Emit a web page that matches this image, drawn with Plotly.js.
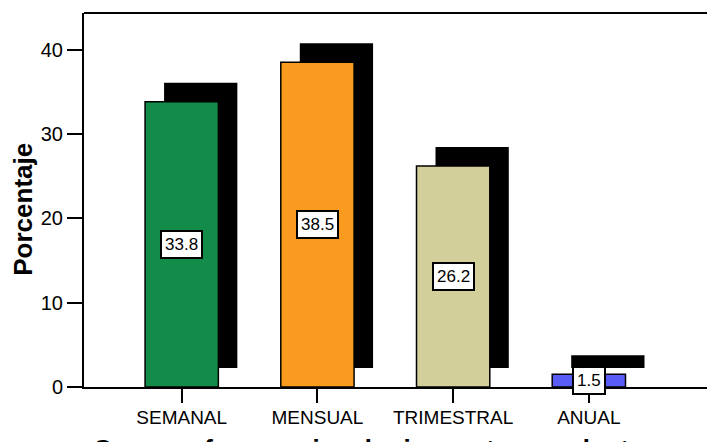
<!DOCTYPE html>
<html>
<head>
<meta charset="utf-8">
<script src="https://cdn.plot.ly/plotly-3.0.1.min.js"></script>
<style>
  html, body { margin: 0; padding: 0; background: #ffffff; overflow: hidden; }
  #chart { width: 730px; height: 442px; }
</style>
</head>
<body>
<div id="chart"></div>
<script>
// Frecuencia de compra (porcentaje de encuestados)
const categories = ["SEMANAL", "MENSUAL", "TRIMESTRAL", "ANUAL"];
const percentages = [33.8, 38.5, 26.2, 1.5];
const barColors = ["#128c48", "#f89b1f", "#d3cf9a", "#5a5cf6"];
const yTicks = [0, 10, 20, 30, 40];

const yAxisTitle = "Porcentaje";
const xAxisTitle = "Con que frecuencia adquiere estos productos";

// Drop-shadow geometry (data units): shifted right and up behind each bar
const barWidth = 0.54;
const shadowDx = 0.14;
const shadowDy = 2.25;

const font = "Liberation Sans, Arial, Helvetica, sans-serif";
const xIdx = categories.map((_, i) => i);

const shadow = {
  type: "bar",
  x: xIdx,
  y: percentages,
  base: percentages.map(() => shadowDy),
  width: barWidth,
  offset: -barWidth / 2 + shadowDx,
  marker: { color: "#000000", line: { width: 0 } },
  hoverinfo: "skip",
  showlegend: false
};

const bars = {
  type: "bar",
  x: xIdx,
  y: percentages,
  width: barWidth,
  offset: -barWidth / 2,
  marker: { color: barColors, line: { color: "#000000", width: 1.5 } },
  showlegend: false
};

// Value boxes centred half-way up each bar
const valueLabels = percentages.map((v, i) => ({
  x: i,
  y: v / 2,
  xref: "x",
  yref: "y",
  text: v.toFixed(1),
  showarrow: false,
  font: { family: font, size: 17, color: "#000000" },
  bgcolor: "#ffffff",
  bordercolor: "#000000",
  borderwidth: 2,
  borderpad: 3,
  xanchor: "center",
  yanchor: "middle"
}));

const titles = [
  {
    xref: "paper", yref: "paper",
    x: (376 - 84) / 646, y: -0.121,
    xanchor: "center", yanchor: "top",
    text: "<b>" + xAxisTitle + "</b>",
    showarrow: false,
    font: { family: font, size: 26, color: "#000000" }
  },
  {
    xref: "paper", yref: "paper",
    x: -0.0944, y: 0.474,
    xanchor: "center", yanchor: "middle",
    textangle: -90,
    text: "<b>" + yAxisTitle + "</b>",
    showarrow: false,
    font: { family: font, size: 26, color: "#000000" }
  }
];

const layout = {
  width: 730,
  height: 442,
  margin: { l: 84, r: 0, t: 13, b: 55.3 },
  paper_bgcolor: "#ffffff",
  plot_bgcolor: "#ffffff",
  barmode: "overlay",
  font: { family: font, color: "#000000" },
  xaxis: {
    range: [-0.72, 4.04],
    tickmode: "array",
    tickvals: xIdx,
    ticktext: categories,
    ticks: "outside",
    ticklen: 14,
    tickwidth: 2,
    tickcolor: "#000000",
    ticklabelstandoff: -2,
    tickfont: { family: font, size: 19, color: "#000000" },
    showline: true,
    linecolor: "#000000",
    linewidth: 2,
    showgrid: false,
    zeroline: false,
    fixedrange: true
  },
  yaxis: {
    range: [0, 44.33],
    tickmode: "array",
    tickvals: yTicks,
    ticks: "outside",
    ticklen: 15,
    tickwidth: 2,
    tickcolor: "#000000",
    tickfont: { family: font, size: 20, color: "#000000" },
    showline: true,
    mirror: false,
    linecolor: "#000000",
    linewidth: 2,
    showgrid: false,
    zeroline: false,
    fixedrange: true
  },
  shapes: [
    // top frame line of the plot area
    { type: "line", xref: "paper", yref: "paper", x0: 0, x1: 1, y0: 1, y1: 1,
      line: { color: "#000000", width: 2 } }
  ],
  annotations: valueLabels.concat(titles)
};

Plotly.newPlot("chart", [shadow, bars], layout, { displayModeBar: false, staticPlot: true });
</script>
</body>
</html>
